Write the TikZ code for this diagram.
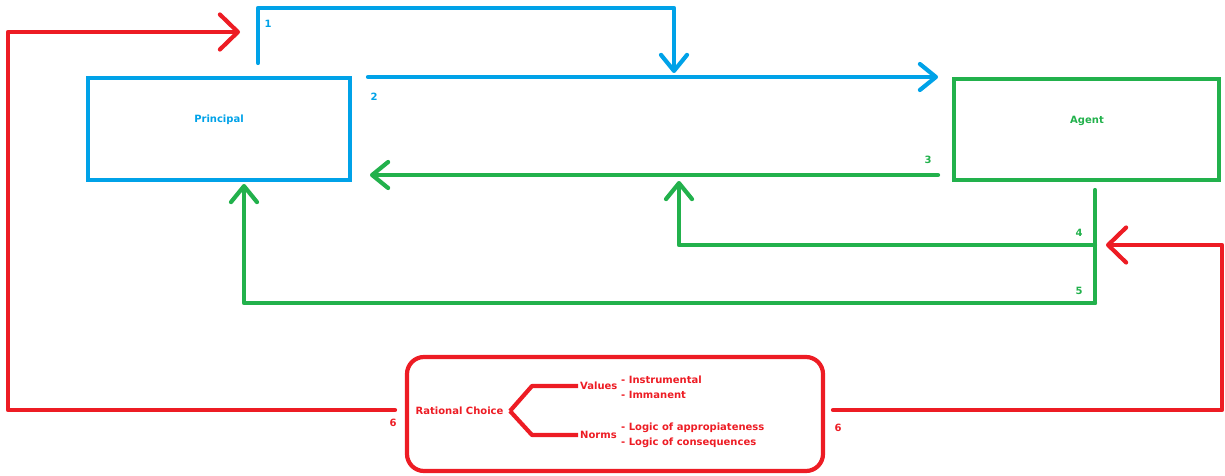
\documentclass[tikz,border=0pt]{standalone}
\usepackage{fontspec}
\setmainfont{DejaVu Sans}
\usetikzlibrary{arrows.meta}
\definecolor{pblue}{RGB}{0,162,232}
\definecolor{agreen}{RGB}{34,177,76}
\definecolor{rcred}{RGB}{237,28,36}
\begin{document}
\begin{tikzpicture}[x=1pt,y=-1pt,
  wire/.style={line width=4.2pt, line cap=round, line join=round},
  tipsmall/.style={-{Straight Barb[length=16pt,width=26pt,line cap=round,line join=round]}},
  tipbig/.style={-{Straight Barb[length=18pt,width=35pt,line cap=round,line join=round]}},
  actor/.style={draw, line width=4.2pt, rectangle, inner sep=0pt},
  lbl/.style={font=\bfseries\fontsize{10}{12}\selectfont, inner sep=0pt},
  item/.style={lbl, anchor=west}]
\useasboundingbox (0,0) rectangle (1225,476);

% actors
\node[actor, draw=pblue, minimum width=262pt, minimum height=102pt] (principal) at (219,129) {};
\node[lbl, text=pblue] (ptext) at (219,120) {Principal};
\node[actor, draw=agreen, minimum width=265pt, minimum height=101pt] (agent) at (1086.5,129.5) {};
\node[lbl, text=agreen] (atext) at (1087,121) {Agent};

% explanatory frame
\node[draw=rcred, line width=4.2pt, rounded corners=17pt, inner sep=0pt, minimum width=416pt, minimum height=114pt] (frame) at (615,414) {};
\node[lbl, text=rcred] (rc) at (459.5,411) {Rational Choice};
\node[lbl, text=rcred, anchor=west, inner xsep=2pt] (values) at (578,386) {Values};
\node[lbl, text=rcred, anchor=west, inner xsep=2pt] (norms) at (578,435) {Norms};
\node[item, text=rcred] (i1) at (621,380) {- Instrumental};
\node[item, text=rcred] (i2) at (621,395) {- Immanent};
\node[item, text=rcred] (i3) at (621,428) {- Logic of appropiateness};
\node[item, text=rcred] (i4) at (621,443) {- Logic of consequences};
\draw[wire, rcred, line cap=butt] (510,411) -- (532,386) -- (values.west);
\draw[wire, rcred, line cap=butt] (510,411) -- (532,435) -- (norms.west);

% connector anchor points
\coordinate (p1s) at (258,63);
\coordinate (p1e) at (674,73);
\coordinate (p2s) at (368,77);
\coordinate (p2e) at (938,77);
\coordinate (a3s) at (938,175);
\coordinate (a3e) at (370,175);
\coordinate (avt) at (1095,190);
\coordinate (a4j) at (1095,245);
\coordinate (a4e) at (679,181);
\coordinate (a5j) at (1095,303);
\coordinate (a5e) at (244,184);
\coordinate (r6l) at (395,410);
\coordinate (r6le) at (240,32);
\coordinate (r6r) at (833,410);
\coordinate (r6re) at (1106,245);

% principal -> agent
\draw[wire, pblue, tipsmall] (p1s) |- (416,8) -| (p1e);
\draw[wire, pblue, tipsmall] (p2s) -- (p2e);
% agent -> principal
\draw[wire, agreen, tipsmall] (a3s) -- (a3e);
\draw[wire, agreen] (avt) -- (a5j);
\draw[wire, agreen, tipsmall] (a4j) -| (a4e);
\draw[wire, agreen, tipsmall] (a5j) -| (a5e);
% feedback from the frame
\draw[wire, rcred, tipbig] (r6l) -- (8,410) |- (r6le);
\draw[wire, rcred, tipbig] (r6r) -- (1222,410) |- (r6re);

% labels
\node[lbl, text=pblue] (n1) at (268,24) {1};
\node[lbl, text=pblue] (n2) at (374,97) {2};
\node[lbl, text=agreen] (n3) at (928,160) {3};
\node[lbl, text=agreen] (n4) at (1079,233) {4};
\node[lbl, text=agreen] (n5) at (1079,291) {5};
\node[lbl, text=rcred] (n6a) at (393,423) {6};
\node[lbl, text=rcred] (n6b) at (838,428) {6};
\end{tikzpicture}
\end{document}
